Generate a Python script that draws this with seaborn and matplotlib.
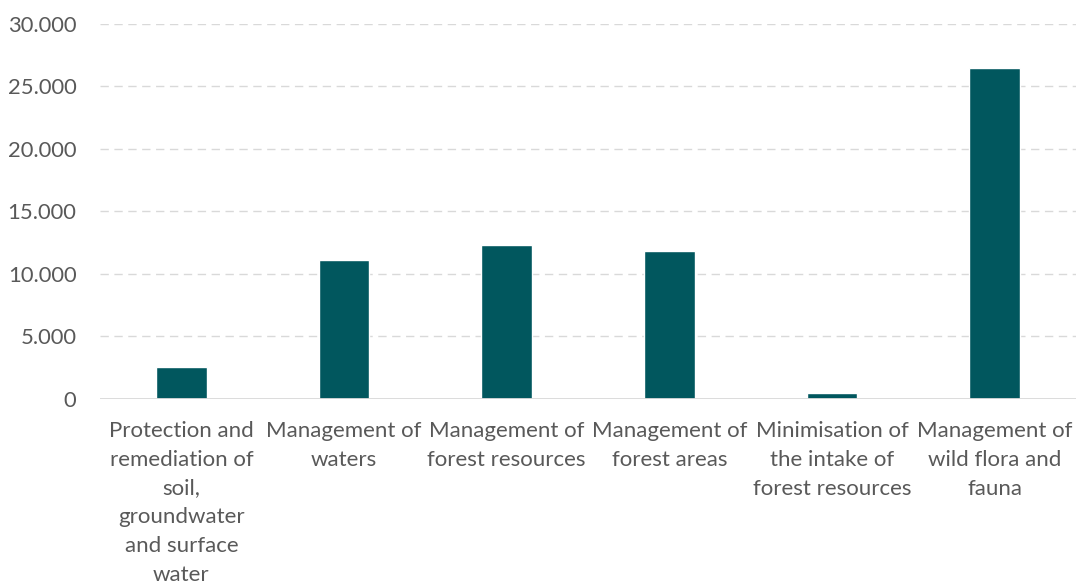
import matplotlib
matplotlib.use("Agg")
import matplotlib.pyplot as plt
import seaborn as sns
import pandas as pd
from matplotlib.ticker import FuncFormatter

categories = [
    "Protection and\nremediation of\nsoil,\ngroundwater\nand surface\nwater",
    "Management of\nwaters",
    "Management of\nforest resources",
    "Management of\nforest areas",
    "Minimisation of\nthe intake of\nforest resources",
    "Management of\nwild flora and\nfauna",
]
values = [2510, 11120, 12300, 11820, 480, 26460]
yticks = [0, 5000, 10000, 15000, 20000, 25000, 30000]

df = pd.DataFrame({"category": categories, "value": values})

sns.set_theme(style="white")
plt.rcParams["font.family"] = ["Lato", "DejaVu Sans"]

fig = plt.figure(figsize=(10.76, 5.85), dpi=100)
ax = fig.add_axes([100 / 1076, 1 - 398.7 / 585, 1 - 100 / 1076, (398.7 - 23.7) / 585])

sns.barplot(data=df, x="category", y="value", color="#01575E", width=0.31,
            saturation=1, ax=ax, zorder=3)

ax.set_ylim(0, 30000)
ax.set_yticks(yticks)
ax.yaxis.set_major_formatter(FuncFormatter(lambda v, p: f"{int(v):,}".replace(",", ".")))
ax.set_xlabel("")
ax.set_ylabel("")

for y in yticks[1:]:
    ax.axhline(y, color="#d9d9d9", lw=1.0, ls=(0, (6, 4)), zorder=1)
ax.axhline(0, color="#d9d9d9", lw=1.3, zorder=4)

for s in ax.spines.values():
    s.set_visible(False)

ax.tick_params(axis="y", length=0, pad=17, labelsize=15.8, labelcolor="#595959")
ax.tick_params(axis="x", length=0, pad=16, labelsize=16, labelcolor="#595959")
for lab in ax.get_xticklabels():
    lab.set_linespacing(1.55)
    lab.set_horizontalalignment("center")

fig.savefig("out.png", dpi=100)
